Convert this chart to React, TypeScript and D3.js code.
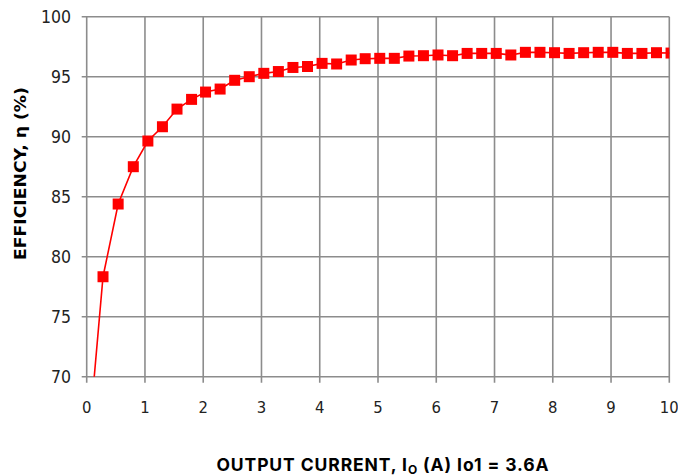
import React from "react";
import * as d3 from "d3";

const current = [0.03, 0.28, 0.54, 0.8, 1.05, 1.3, 1.55, 1.8, 2.04, 2.29, 2.54, 2.79, 3.04, 3.29, 3.54, 3.79,
  4.04, 4.29, 4.54, 4.78, 5.03, 5.28, 5.53, 5.78, 6.03, 6.28, 6.53, 6.78, 7.03, 7.28, 7.53, 7.78, 8.03,
  8.28, 8.53, 8.78, 9.03, 9.28, 9.53, 9.78, 10.03];
const efficiency = [64.5, 78.33, 84.39, 87.5, 89.64, 90.83, 92.3, 93.11, 93.72, 93.97, 94.7, 95.0, 95.28, 95.43,
  95.77, 95.85, 96.11, 96.06, 96.39, 96.5, 96.53, 96.53, 96.72, 96.75, 96.81, 96.75, 96.94, 96.94, 96.94,
  96.81, 97.03, 97.03, 97.0, 96.94, 97.0, 97.03, 97.03, 96.94, 96.94, 97.0, 96.97];
const xTicks = [0, 1, 2, 3, 4, 5, 6, 7, 8, 9, 10];
const yTicks = [70, 75, 80, 85, 90, 95, 100];

export default function App() {
  const W = 678, H = 476;
  const x = d3.scaleLinear().domain([0, 10]).range([86.7, 669.3]);
  const y = d3.scaleLinear().domain([70, 100]).range([376.7, 16.7]);
  const pts = current.map((c, i) => [c, efficiency[i]] as [number, number]);
  const line = d3.line<[number, number]>().x(d => x(d[0])).y(d => y(d[1]));
  const grid = "#8c8c8c";
  const tickFont = "'Liberation Sans Narrow', 'DejaVu Sans Condensed', sans-serif";
  return (
    <svg width={W} height={H} style={{ position: "absolute", left: 0, top: 0, background: "#fff" }}>
      <defs>
        <clipPath id="plot">
          <rect x={x(0)} y={y(100)} width={x(10) - x(0)} height={y(70) - y(100)} />
        </clipPath>
      </defs>
      <rect width={W} height={H} fill="#fff" />
      {xTicks.map(t => (
        <line key={"gx" + t} x1={x(t)} x2={x(t)} y1={y(100)} y2={y(70) + 6} stroke={grid} strokeWidth={1.6} />
      ))}
      {yTicks.map(t => (
        <line key={"gy" + t} x1={x(0) - 5} x2={x(10)} y1={y(t)} y2={y(t)} stroke={grid} strokeWidth={1.6} />
      ))}
      {xTicks.map(t => (
        <text key={"tx" + t} x={x(t)} y={413} textAnchor="middle" fontFamily={tickFont} fontSize={16.5} fill="#222">{t}</text>
      ))}
      {yTicks.map(t => (
        <text key={"ty" + t} x={71} y={y(t) + 6.5} textAnchor="end" fontFamily={tickFont} fontSize={17.5} fill="#222">{t}</text>
      ))}
      <g clipPath="url(#plot)">
        <path d={line(pts) || ""} fill="none" stroke="#ff0000" strokeWidth={1.6} />
        {pts.map((p, i) => (
          <rect key={"m" + i} x={x(p[0]) - 5.5} y={y(p[1]) - 5.5} width={11} height={11} fill="#ff0000" />
        ))}
      </g>
      <text transform={`translate(25.5,173.5) rotate(-90)`} textAnchor="middle" textLength={173} lengthAdjust="spacingAndGlyphs" fontFamily="'DejaVu Sans', sans-serif" fontWeight="bold" fontSize={15} fill="#000">EFFICIENCY, η (%)</text>
      <text x={383} y={471} textAnchor="middle" fontFamily="Inter, 'Open Sans', sans-serif" fontWeight="bold" fontSize={17.5} letterSpacing={0.9} fill="#000">
        OUTPUT CURRENT, I<tspan fontSize={12} dy={3}>O</tspan><tspan dy={-3}> (A) Io1 = 3.6A</tspan>
      </text>
    </svg>
  );
}
